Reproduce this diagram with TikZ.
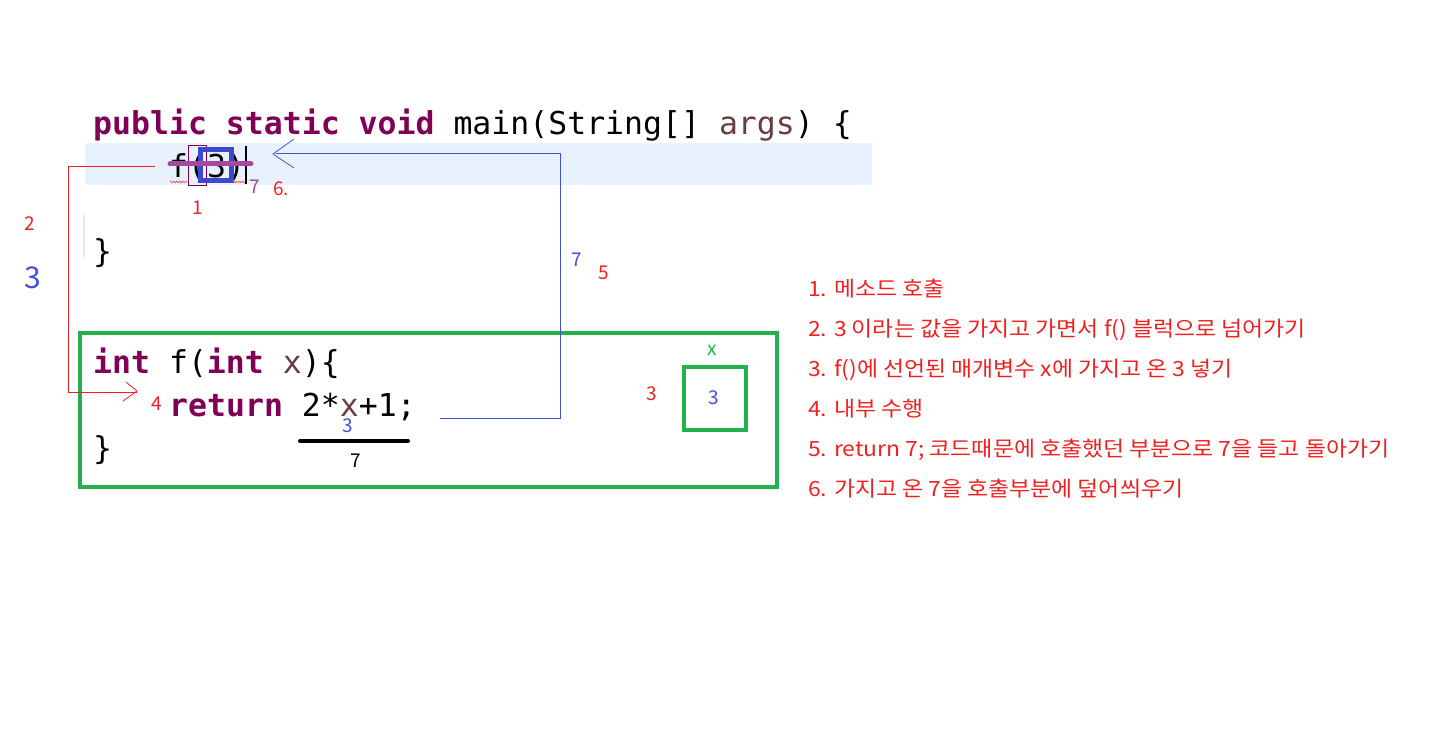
\documentclass[tikz,border=0pt]{standalone}
\usepackage{fontspec}
\setmainfont{Noto Sans CJK KR}
\newfontfamily\notefont[FakeStretch=1.09]{Noto Sans CJK KR}
\newfontfamily\codefont{DejaVu Sans Mono}
\usetikzlibrary{decorations.pathmorphing}
\definecolor{kw}{HTML}{7F0055}
\definecolor{var}{HTML}{6A3E3E}
\definecolor{band}{HTML}{E8F2FE}
\definecolor{grn}{HTML}{22B14C}
\definecolor{blu}{HTML}{3F48CC}
\definecolor{lblu}{HTML}{4050D8}
\definecolor{red1}{HTML}{F02020}
\definecolor{pur}{HTML}{A349A4}
\tikzset{
  code/.style={anchor=base west,inner sep=0pt,font=\codefont\fontsize{31.5}{36}\selectfont},
  note/.style={anchor=base west,inner sep=0pt,text=red1,font=\notefont\fontsize{21}{24}\selectfont},
  lab/.style={anchor=center,inner sep=0pt,font=\fontsize{19}{22}\selectfont},
}
\newcommand{\kwd}[1]{\textcolor{kw}{\textbf{#1}}}
\begin{document}
\begin{tikzpicture}[x=1pt,y=-1pt]
\useasboundingbox (0,0) rectangle (1429,730);
% highlight band
\fill[band] (85,143) rectangle (872,185);
\draw[band!60!gray!40,line width=1.5pt] (84,215) -- (84,257);
% code main
\node[code] (l1) at (93,135) {\kwd{public} \kwd{static} \kwd{void} main(String[] \textcolor{var}{args}) \{};
\node[code] (l2) at (169,178) {f(3)};
\node[code] (l4) at (93,262) {\}};
% markings on f(3)
\draw[kw,line width=0.8pt] (188,145) rectangle (206,185);
\draw[blu,line width=5pt] (200,150) rectangle (231,181);
\draw[black,line width=1.5pt] (246,146) -- (246,184);
\draw[red1!70!pink,line width=0.6pt,decorate,decoration={zigzag,segment length=3pt,amplitude=1pt}] (170,182) -- (187,182);
\draw[red1!70!pink,line width=0.6pt,decorate,decoration={zigzag,segment length=3pt,amplitude=1pt}] (233,182) -- (245,182);
\draw[pur,line width=5pt,line cap=round] (170,164) -- (251,164);
\node[lab,text=pur] (n7a) at (255,187) {7};
\node[lab,text=red1] (n6) at (281,189) {6.};
\node[lab,text=red1] (n1) at (198,208) {1};
\node[lab,text=red1] (n2) at (30,224) {2};
\node[lab,text=lblu,font=\fontsize{30}{30}\selectfont] (n3h) at (33,278) {3};
% function block
\draw[grn,line width=4pt] (80,333) rectangle (777,487);
\node[code] (f1) at (93,373) {\kwd{int} f(\kwd{int} \textcolor{var}{x})\{};
\node[code] (f2) at (169,416) {\kwd{return} 2*\textcolor{var}{x}+1;};
\node[code] (f3) at (93,459) {\}};
\node[lab,text=red1] (n4) at (157,404) {4};
\node[lab,text=lblu] (n3x) at (348,426) {3};
\draw[black,line width=4pt,line cap=round] (300,441) -- (408,441);
\node[lab,text=black] (n7b) at (356,461) {7};
% parameter box
\node[lab,text=grn] (nx) at (712,350) {x};
\draw[grn,line width=4pt] (684,367) rectangle (746,430);
\node[lab,text=lblu] (n3b) at (714,398) {3};
\node[lab,text=red1] (n3r) at (652,394) {3};
% red call connector
\coordinate (rs) at (155,166);
\coordinate (re) at (137,392);
\draw[red1,line width=0.8pt] (rs) -- (68,166) -- (68,392) -- (re);
\draw[red1,line width=0.8pt] (126,382) -- (137,391) -- (123,401);
% blue return connector
\coordinate (bs) at (440,418);
\coordinate (be) at (276,153);
\draw[lblu,line width=0.8pt] (bs) -- (560,418) -- (560,153) -- (be);
\draw[lblu,line width=0.8pt] (294,139) -- (273,154) -- (294,168);
\node[lab,text=lblu] (n7c) at (577,260) {7};
\node[lab,text=red1] (n5) at (604,273) {5};
% notes
\node[note] (t1) at (808,296) {1. 메소드 호출};
\node[note] (t2) at (808,336) {2. 3 이라는 값을 가지고 가면서 f() 블럭으로 넘어가기};
\node[note] (t3) at (808,376) {3. f()에 선언된 매개변수 x에 가지고 온 3 넣기};
\node[note] (t4) at (808,416) {4. 내부 수행};
\node[note] (t5) at (808,456) {5. return 7; 코드때문에 호출했던 부분으로 7을 들고 돌아가기};
\node[note] (t6) at (808,496) {6. 가지고 온 7을 호출부분에 덮어씌우기};
\end{tikzpicture}
\end{document}
